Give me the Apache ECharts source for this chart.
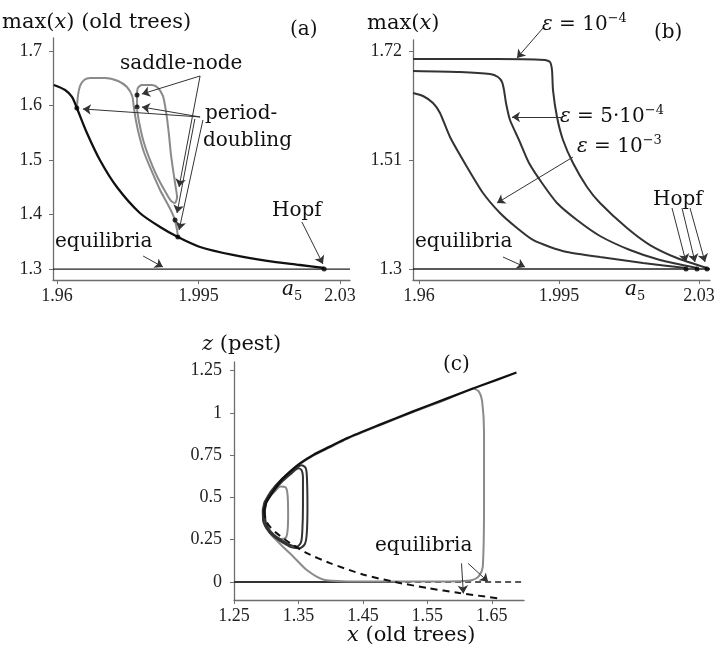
<!DOCTYPE html>
<html><head><meta charset="utf-8">
<script src="https://cdn.jsdelivr.net/npm/echarts@6/dist/echarts.min.js"></script>
<style>html,body{margin:0;padding:0;background:#fff}#c{width:723px;height:648px}</style>
</head><body><div id="c"></div>
<script>
// ---------- Panel (a): max(x) vs a5 ----------
const aTicksX = [1.96, 1.995, 2.03];
const aTicksY = [1.3, 1.4, 1.5, 1.6, 1.7];
const aEqX = [1.959, 2.0325];
const aEqY = [1.3, 1.3];
const aP1X = [1.9592,1.9620,1.9637,1.9649,1.9674,1.9706,1.9748,1.9805,1.9855,1.9899,1.9954,2.0035,2.0120,2.0201,2.0261];
const aP1Y = [1.6378,1.6286,1.6158,1.5956,1.5497,1.5002,1.4506,1.4029,1.3772,1.3589,1.3406,1.3259,1.3149,1.3075,1.3020];
const aP2X = [1.9649,1.9652,1.9657,1.9667,1.9682,1.9719,1.9751,1.9773,1.9786,1.9790,1.9795,1.9803,1.9815,1.9833,1.9855,1.9875,1.9887,1.9892,1.9897,1.9899];
const aP2Y = [1.5938,1.6195,1.6360,1.6470,1.6506,1.6506,1.6451,1.6341,1.6176,1.5974,1.5736,1.5461,1.5149,1.4819,1.4451,1.4176,1.3993,1.3883,1.3718,1.3589];
const aP4X = [1.9798,1.9798,1.9800,1.9810,1.9835,1.9850,1.9862,1.9867,1.9872,1.9877,1.9882,1.9889,1.9894,1.9897,1.9892,1.9882,1.9867,1.9847,1.9828,1.9813,1.9803,1.9798];
const aP4Y = [1.5974,1.6195,1.6323,1.6378,1.6378,1.6323,1.6176,1.6011,1.5773,1.5461,1.5094,1.4727,1.4488,1.4323,1.4213,1.4250,1.4433,1.4708,1.5039,1.5369,1.5699,1.5920];
const aDotX = [1.9649,1.9798,1.9798,1.9892,1.9899,2.0261];
const aDotY = [1.5956,1.6195,1.5974,1.3901,1.3589,1.3002];
const aArrFromX = [1.9954,1.9954,1.9954,1.9954,1.9941,1.9961,2.0206,1.9813];
const aArrFromY = [1.6543,1.6543,1.5791,1.5791,1.5754,1.5736,1.3864,1.3240];
const aArrToX   = [1.9810,1.9902,1.9664,1.9810,1.9897,1.9902,2.0258,1.9862];
const aArrToY   = [1.6213,1.4507,1.5938,1.5974,1.4029,1.3718,1.3094,1.3039];

// ---------- Panel (b): max(x) for three epsilons ----------
const bTicksX = [1.96, 1.995, 2.03];
const bTicksY = [1.3, 1.51, 1.72];
const bEqX = [1.9585, 2.03275];
const bEqY = [1.3, 1.3];
const bE4X = [1.9585,1.97925,1.9915,1.99275,1.99325,1.9935,1.9945,1.996,1.9985,2.002,2.00525,2.012,2.01775,2.0245,2.032];
const bE4Y = [1.7047,1.7047,1.7027,1.6989,1.6835,1.6449,1.5929,1.5486,1.5043,1.4580,1.4272,1.3790,1.3462,1.3212,1.3019];
const bE5X = [1.9585,1.97025,1.97775,1.97975,1.98075,1.98125,1.98175,1.98275,1.985,1.9875,1.99075,1.9945,1.9995,2.00525,2.01275,2.02025,2.0295];
const bE5Y = [1.6815,1.6796,1.6758,1.6700,1.6603,1.6449,1.6199,1.5871,1.5486,1.5043,1.4657,1.4272,1.3944,1.3636,1.3366,1.3173,1.3019];
const bE3X = [1.9585,1.961,1.9635,1.96525,1.96775,1.972,1.976,1.98025,1.9845,1.9885,1.99275,1.997,2.00525,2.016,2.02675];
const bE3Y = [1.6391,1.6334,1.6199,1.6006,1.5544,1.4966,1.4464,1.4079,1.3790,1.3559,1.3424,1.3328,1.3231,1.3116,1.3019];
const bDotX = [2.02675,2.0295,2.032];
const bDotY = [1.3,1.3,1.3];
const bArrFromX = [1.991,1.996,1.9985,2.02325,2.02575,2.02775,1.981];
const bArrFromY = [1.7644,1.5929,1.5158,1.4175,1.4175,1.4175,1.3231];
const bArrToX   = [1.9845,1.98325,1.9795,2.02675,2.029,2.0315,1.9865];
const bArrToY   = [1.7066,1.5929,1.4272,1.3135,1.3135,1.3135,1.3038];

// ---------- Panel (c): z (pest) vs x (old trees) ----------
const cTicksX = [1.25, 1.35, 1.45, 1.55, 1.65];
const cTicksY = [0, 0.25, 0.5, 0.75, 1, 1.25];
const cUpperX = [1.2965,1.300,1.3084,1.3213,1.3368,1.3523,1.373,1.3988,1.4247,1.4764,1.528,1.5797,1.6314,1.6883];
const cUpperZ = [0.42,0.47,0.524,0.593,0.652,0.701,0.751,0.800,0.849,0.930,1.008,1.084,1.158,1.238];
const cLowerX = [1.2965,1.299,1.305,1.316,1.337,1.363,1.399,1.45,1.50,1.55,1.60,1.662];
const cLowerZ = [0.42,0.37,0.33,0.289,0.23,0.171,0.112,0.045,0.0,-0.035,-0.065,-0.097];
const cZeroSolidX = [1.25, 1.50];
const cZeroDashX = [1.50, 1.70];
const cZeroZ = [0, 0];
const cBigX = [1.621,1.58,1.528,1.4764,1.4247,1.3988,1.373,1.3523,1.3368,1.3213,1.3084,1.300,1.2944,1.296,1.306,1.326,1.342,1.363,1.388,1.425,1.50,1.60,1.62,1.63,1.636,1.638,1.638,1.635,1.630,1.621];
const cBigZ = [1.146,1.080,1.004,0.926,0.845,0.796,0.747,0.697,0.648,0.589,0.52,0.475,0.426,0.36,0.288,0.209,0.15,0.071,0.015,0.004,0.003,0.005,0.012,0.035,0.09,0.485,0.879,1.070,1.125,1.146];
const cLoopAX = [1.300,1.310,1.325,1.340,1.350,1.355,1.357,1.357,1.356,1.354,1.348,1.338,1.325,1.312,1.303,1.298,1.298,1.300];
const cLoopAZ = [0.47,0.53,0.595,0.645,0.672,0.66,0.62,0.45,0.30,0.235,0.21,0.218,0.245,0.28,0.32,0.37,0.42,0.47];
const cLoopBX = [1.297,1.307,1.322,1.340,1.355,1.361,1.363,1.364,1.363,1.360,1.352,1.340,1.325,1.310,1.300,1.295,1.295,1.297];
const cLoopBZ = [0.47,0.535,0.60,0.655,0.69,0.675,0.63,0.45,0.29,0.225,0.20,0.205,0.235,0.275,0.32,0.37,0.42,0.47];
const cSmallX = [1.300,1.312,1.322,1.330,1.333,1.334,1.333,1.330,1.322,1.310,1.302,1.299,1.298,1.300];
const cSmallZ = [0.48,0.53,0.565,0.56,0.52,0.40,0.30,0.26,0.255,0.28,0.32,0.37,0.42,0.48];
const cArrFromX = [1.603,1.6133];
const cArrFromZ = [0.110,0.110];
const cArrToX   = [1.6059,1.6443];
const cArrToZ   = [-0.067,0.002];

// ---------- helpers ----------
const zip = (xs, ys) => xs.map((x, i) => [x, ys[i]]);
const arrows = (fx, fy, tx, ty) => fx.map((x, i) => [{coord: [x, fy[i]]}, {coord: [tx[i], ty[i]]}]);
const TICKF = 'Liberation Serif';
const TXTF = 'DejaVu Serif';
const AXC = '#6e6e6e';

function xAx(g, min, max, ticks) {
  return {type: 'value', gridIndex: g, min, max,
    axisLine: {show: true, onZero: false, lineStyle: {color: AXC, width: 1.3}},
    axisTick: {show: true, customValues: ticks, length: 4, lineStyle: {color: AXC}},
    axisLabel: {customValues: ticks, margin: 7, fontFamily: TICKF, fontSize: 18, color: '#222'},
    splitLine: {show: false}};
}
function yAx(g, min, max, ticks, margin) {
  return {type: 'value', gridIndex: g, min, max,
    axisLine: {show: true, onZero: false, lineStyle: {color: AXC, width: 1.3}},
    axisTick: {show: true, customValues: ticks, length: 4, lineStyle: {color: AXC}},
    axisLabel: {customValues: ticks, margin: margin, fontFamily: TICKF, fontSize: 18, color: '#222'},
    splitLine: {show: false}};
}
function line(g, xs, ys, color, width, extra) {
  return Object.assign({type: 'line', xAxisIndex: g, yAxisIndex: g, data: zip(xs, ys),
    showSymbol: false, symbol: 'none', smooth: 0.25, animation: false, silent: true, clip: false,
    lineStyle: {color, width}}, extra || {});
}
function arrowMark(fx, fy, tx, ty) {
  return {silent: true, animation: false, symbol: ['none', 'arrow'], symbolSize: 8, precision: 6,
    label: {show: false}, emphasis: {disabled: true},
    lineStyle: {color: '#333', width: 1, type: 'solid'},
    data: arrows(fx, fy, tx, ty)};
}
function dots(g, xs, ys) {
  return {type: 'scatter', xAxisIndex: g, yAxisIndex: g, data: zip(xs, ys), symbolSize: 5,
    itemStyle: {color: '#000'}, silent: true, animation: false, z: 5};
}
const rich = {
  it: {fontStyle: 'italic', fontFamily: TXTF, fontSize: 20},
  sup: {fontSize: 13, fontFamily: TXTF, verticalAlign: 'top', lineHeight: 26},
  sub: {fontSize: 13, fontFamily: TXTF, verticalAlign: 'bottom', lineHeight: 26},
  itb: {fontStyle: 'italic', fontFamily: TXTF, fontSize: 21},
  n: {fontFamily: TXTF, fontSize: 20, lineHeight: 26},
  nb: {fontFamily: TXTF, fontSize: 21, lineHeight: 28}
};
function txt(x, y, text, size, align) {
  return {type: 'text', x, y, silent: true,
    style: {text, fontFamily: TXTF, fontSize: size || 20, fill: '#111',
      align: align || 'left', verticalAlign: 'middle', rich}};
}

const option = {
  backgroundColor: '#fff',
  animation: false,
  grid: [
    {left: 53, top: 38, width: 297, height: 242, outerBoundsMode: 'none', containLabel: false},
    {left: 413, top: 40, width: 297, height: 240, outerBoundsMode: 'none', containLabel: false},
    {left: 234, top: 362, width: 290, height: 238, outerBoundsMode: 'none', containLabel: false}
  ],
  xAxis: [xAx(0, 1.959, 2.0325, aTicksX), xAx(1, 1.9585, 2.03275, bTicksX), xAx(2, 1.25, 1.70, cTicksX)],
  yAxis: [yAx(0, 1.28, 1.724, aTicksY, 11), yAx(1, 1.2788, 1.7413, bTicksY, 11), yAx(2, -0.106, 1.30, cTicksY, 12)],
  series: [
    // (a)
    line(0, aEqX, aEqY, '#222', 1.3, {smooth: false, markLine: arrowMark(aArrFromX, aArrFromY, aArrToX, aArrToY)}),
    line(0, aP2X, aP2Y, '#8a8a8a', 2),
    line(0, aP4X, aP4Y, '#8a8a8a', 2),
    line(0, aP1X, aP1Y, '#111', 2.3),
    dots(0, aDotX, aDotY),
    // (b)
    line(1, bEqX, bEqY, '#222', 1.3, {smooth: false, markLine: arrowMark(bArrFromX, bArrFromY, bArrToX, bArrToY)}),
    line(1, bE4X, bE4Y, '#333', 2, {smooth: 0.2}),
    line(1, bE5X, bE5Y, '#333', 2, {smooth: 0.2}),
    line(1, bE3X, bE3Y, '#333', 2, {smooth: 0.2}),
    dots(1, bDotX, bDotY),
    // (c)
    line(2, cZeroSolidX, cZeroZ, '#333', 2, {smooth: false, markLine: arrowMark(cArrFromX, cArrFromZ, cArrToX, cArrToZ)}),
    line(2, cZeroDashX, cZeroZ, '#222', 1.6, {smooth: false, lineStyle: {color: '#222', width: 1.6, type: [6, 4]}}),
    line(2, cBigX, cBigZ, '#8a8a8a', 2),
    line(2, cSmallX, cSmallZ, '#8a8a8a', 2),
    line(2, cLoopAX, cLoopAZ, '#333', 2),
    line(2, cLoopBX, cLoopBZ, '#333', 2),
    line(2, cLowerX, cLowerZ, '#111', 2, {lineStyle: {color: '#111', width: 2, type: [7, 5]}}),
    line(2, cUpperX, cUpperZ, '#111', 2.3)
  ],
  graphic: [
    txt(2, 23, '{nb|max(}{itb|x}{nb|) (old trees)}', 21),
    txt(290, 30, '(a)', 20),
    txt(120, 64, 'saddle-node', 20),
    txt(205, 114, 'period-', 20),
    txt(203, 141, 'doubling', 20),
    txt(272, 211, 'Hopf', 20),
    txt(55, 242, 'equilibria', 20),
    txt(282, 290, '{it|a}{sub|5}', 20),
    txt(367, 24, '{nb|max(}{itb|x}{nb|)}', 21),
    txt(654, 33, '(b)', 20),
    txt(542, 25, '{it|ε}{n| = 10}{sup|−4}', 20),
    txt(560, 117, '{it|ε}{n| = 5·10}{sup|−4}', 20),
    txt(577, 147, '{it|ε}{n| = 10}{sup|−3}', 20),
    txt(653, 200, 'Hopf', 20),
    txt(415, 242, 'equilibria', 20),
    txt(625, 290, '{it|a}{sub|5}', 20),
    txt(202, 345, '{itb|z}{nb| (pest)}', 21),
    txt(443, 365, '(c)', 20),
    txt(347, 636, '{itb|x}{nb| (old trees)}', 21),
    txt(375, 546, 'equilibria', 20)
  ]
};
const chart = echarts.init(document.getElementById('c'), null, {renderer: 'canvas'});
chart.setOption(option);
// endpoints lying above panel (b)'s plot area are placed through the axis scale (markers there would be filtered out)
const bYMax = option.yAxis[1].max;
const bArrowSeries = option.series[5];
bArrowSeries.markLine.data = bArrowSeries.markLine.data.map(pair => pair.map(pt => {
  if (pt.coord[1] > bYMax) {
    const p = chart.convertToPixel({xAxisIndex: 1, yAxisIndex: 1}, pt.coord);
    return {x: p[0], y: p[1]};
  }
  return pt;
}));
chart.setOption({series: option.series});
</script></body></html>
